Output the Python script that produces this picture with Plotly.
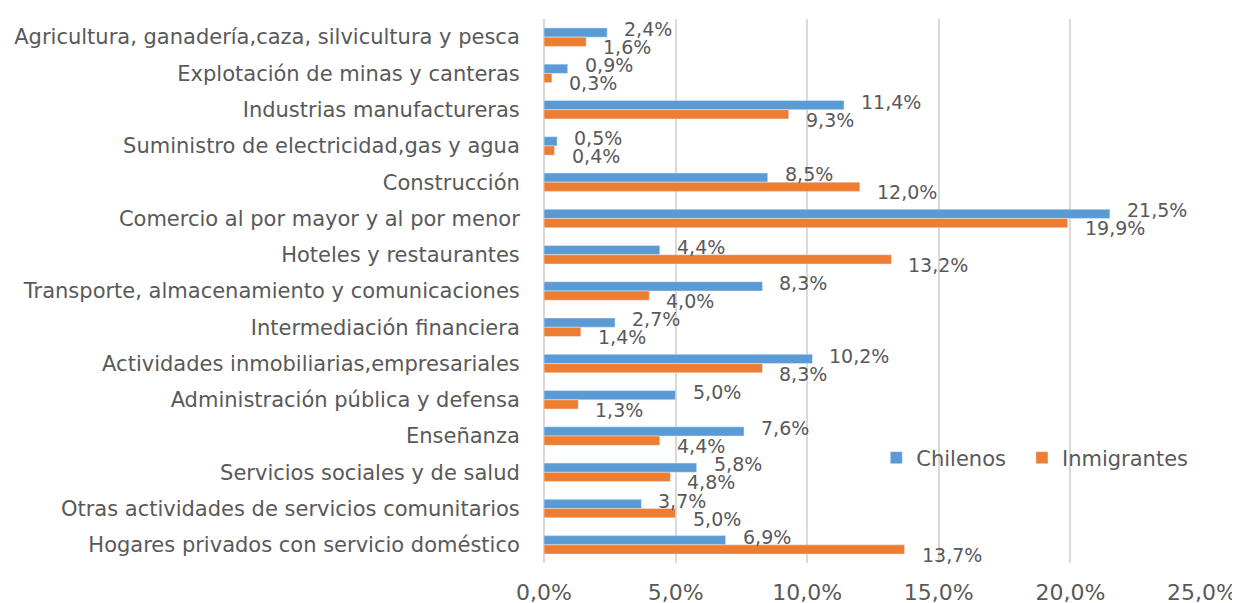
import plotly.graph_objects as go

categories = [
    "Agricultura, ganadería,caza, silvicultura y pesca",
    "Explotación de minas y canteras",
    "Industrias manufactureras",
    "Suministro de electricidad,gas y agua",
    "Construcción",
    "Comercio al por mayor y al por menor",
    "Hoteles y restaurantes",
    "Transporte, almacenamiento y comunicaciones",
    "Intermediación financiera",
    "Actividades inmobiliarias,empresariales",
    "Administración pública y defensa",
    "Enseñanza",
    "Servicios sociales y de salud",
    "Otras actividades de servicios comunitarios",
    "Hogares privados con servicio doméstico",
]
chilenos = [2.4, 0.9, 11.4, 0.5, 8.5, 21.5, 4.4, 8.3, 2.7, 10.2, 5.0, 7.6, 5.8, 3.7, 6.9]
inmigrantes = [1.6, 0.3, 9.3, 0.4, 12.0, 19.9, 13.2, 4.0, 1.4, 8.3, 1.3, 4.4, 4.8, 5.0, 13.7]
x_ticks = [0, 5, 10, 15, 20, 25]

BLUE = "#5B9BD5"
ORANGE = "#ED7D31"
TXT = "#595959"
FONT = "DejaVu Sans, Verdana, sans-serif"


def fmt(v):
    return f"{v:.1f}%".replace(".", ",")


fig = go.Figure()
fig.add_trace(go.Bar(name="Chilenos", y=categories, x=chilenos, orientation="h",
                     marker=dict(color=BLUE), legend="legend"))
fig.add_trace(go.Bar(name="Inmigrantes", y=categories, x=inmigrantes, orientation="h",
                     marker=dict(color=ORANGE), legend="legend2"))

for c, v in zip(categories, chilenos):
    fig.add_annotation(x=v, y=c, text=fmt(v), showarrow=False, xanchor="left",
                       yanchor="middle", xshift=15, yshift=8,
                       font=dict(family=FONT, size=19, color=TXT))
for c, v in zip(categories, inmigrantes):
    fig.add_annotation(x=v, y=c, text=fmt(v), showarrow=False, xanchor="left",
                       yanchor="middle", xshift=15, yshift=-10,
                       font=dict(family=FONT, size=19, color=TXT))

leg_common = dict(orientation="h", y=0.193, xanchor="left", yanchor="middle",
                  font=dict(family=FONT, size=21, color=TXT),
                  bgcolor="rgba(0,0,0,0)", itemwidth=30)

n = len(categories)
fig.update_layout(
    width=1240, height=603,
    margin=dict(l=536, r=46, t=11, b=48, autoexpand=False),
    barmode="group", bargap=0.49, bargroupgap=0,
    plot_bgcolor="white", paper_bgcolor="white",
    font=dict(family=FONT, color=TXT),
    legend=dict(x=0.505, **leg_common),
    legend2=dict(x=0.7264, **leg_common),
    xaxis=dict(range=[0, 25], tickvals=x_ticks, ticktext=[fmt(t) for t in x_ticks],
               showgrid=True, gridcolor="#d9d9d9", gridwidth=1.5,
               zeroline=True, zerolinecolor="#d9d9d9", zerolinewidth=1.5,
               tickfont=dict(family=FONT, size=22, color=TXT),
               ticks="outside", ticklen=10, tickcolor="white",
               showline=False, automargin=False),
    yaxis=dict(range=[n - 0.5, -0.5], tickfont=dict(family=FONT, size=21, color=TXT),
               ticks="outside", ticklen=19, tickcolor="white", showline=False,
               showgrid=False, automargin=False),
    showlegend=True,
)

fig.write_html("out.html")
